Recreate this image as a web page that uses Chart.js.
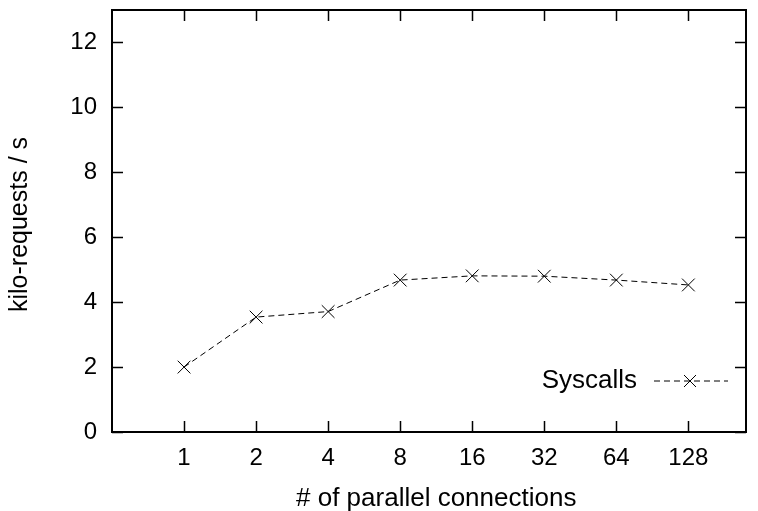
<!DOCTYPE html>
<html>
<head>
<meta charset="utf-8">
<script src="https://cdn.jsdelivr.net/npm/chart.js@4"></script>
<style>
  html, body { margin: 0; padding: 0; background: #fff; }
  #wrap { width: 758px; height: 511px; }
</style>
</head>
<body>
<div id="wrap"><canvas id="lineChart" width="758" height="511"></canvas></div>
<script>
var connections = ['1', '2', '4', '8', '16', '32', '64', '128']
var syscalls = [2.0, 3.54, 3.71, 4.68, 4.81, 4.80, 4.68, 4.53]
var yTicks = [0, 2, 4, 6, 8, 10, 12]

var points = []
for (var i = 0; i < connections.length; i++) {
	points.push({ x: i + 1, y: syscalls[i] })
}

var family = 'Liberation Sans, Arial, sans-serif'
var tickFont = { family: family, size: 24 }
var textFont = { family: family, size: 26 }

// frame + inward ticks on all four sides, gnuplot style
var framePlugin = {
	id: 'frame',
	afterDraw: function (chart) {
		var c = chart.ctx, a = chart.chartArea
		var xs = chart.scales.x, ys = chart.scales.y
		c.save()
		c.strokeStyle = '#000'
		c.lineWidth = 1.5
		for (var i = 0; i < connections.length; i++) {
			var px = Math.round(xs.getPixelForValue(i + 1)) + 0.5
			c.beginPath()
			c.moveTo(px, a.bottom); c.lineTo(px, a.bottom - 11)
			c.moveTo(px, a.top); c.lineTo(px, a.top + 11)
			c.stroke()
		}
		for (var j = 0; j < yTicks.length; j++) {
			var py = Math.round(ys.getPixelForValue(yTicks[j])) + 0.5
			c.beginPath()
			c.moveTo(a.left, py); c.lineTo(a.left + 11, py)
			c.moveTo(a.right, py); c.lineTo(a.right - 11, py)
			c.stroke()
		}
		c.lineWidth = 2
		c.strokeRect(a.left, a.top, a.right - a.left, a.bottom - a.top)

		// key inside the plot, bottom right
		var ky = 381
		c.fillStyle = '#000'
		c.font = textFont.size + 'px ' + family
		c.textAlign = 'right'
		c.textBaseline = 'middle'
		c.fillText('Syscalls', 637, ky)
		c.lineWidth = 1
		c.setLineDash([6, 4])
		c.beginPath()
		c.moveTo(654, ky); c.lineTo(728, ky)
		c.stroke()
		c.setLineDash([])
		c.beginPath()
		c.moveTo(684, ky - 6); c.lineTo(696, ky + 6)
		c.moveTo(684, ky + 6); c.lineTo(696, ky - 6)
		c.stroke()
		c.restore()
	}
}

var ctxL = document.getElementById('lineChart').getContext('2d')
var myLineChart = new Chart(ctxL, {
	type: 'line',
	data: {
		datasets: [{
			label: 'Syscalls',
			data: points,
			borderColor: '#000',
			backgroundColor: '#000',
			borderWidth: 1,
			borderDash: [6, 4],
			pointStyle: 'crossRot',
			pointRadius: 9,
			pointBorderWidth: 1,
			pointBorderColor: '#000',
			tension: 0
		}]
	},
	options: {
		responsive: false,
		animation: false,
		layout: { padding: { top: 10, right: 12, left: 0, bottom: 0 } },
		plugins: { legend: { display: false }, tooltip: { enabled: false } },
		scales: {
			x: {
				type: 'linear',
				min: 0,
				max: 8.8,
				afterFit: function (s) {
					s.height = 79
					s.paddingLeft = 0; s.paddingRight = 0
				},
				afterBuildTicks: function (s) {
					s.ticks = connections.map(function (c, i) { return { value: i + 1 } })
				},
				ticks: {
					color: '#000',
					font: tickFont,
					padding: 12,
					maxRotation: 0,
					autoSkip: false,
					callback: function (v) { return connections[v - 1] }
				},
				grid: { display: false, drawTicks: false },
				border: { display: false },
				title: {
					display: true,
					text: '  # of parallel connections',
					color: '#000',
					font: textFont,
					padding: { top: 0, bottom: -3 }
				}
			},
			y: {
				min: 0,
				max: 13,
				afterFit: function (s) {
					s.width = 112
					s.paddingTop = 0; s.paddingBottom = 0
				},
				afterBuildTicks: function (s) {
					s.ticks = yTicks.map(function (v) { return { value: v } })
				},
				ticks: { color: '#000', font: tickFont, padding: 15 },
				grid: { display: false, drawTicks: false },
				border: { display: false },
				title: {
					display: true,
					text: 'kilo-requests / s ',
					color: '#000',
					font: { family: family, size: 25 },
					padding: { bottom: 0, top: 5 }
				}
			}
		}
	},
	plugins: [framePlugin]
})
</script>
</body>
</html>
